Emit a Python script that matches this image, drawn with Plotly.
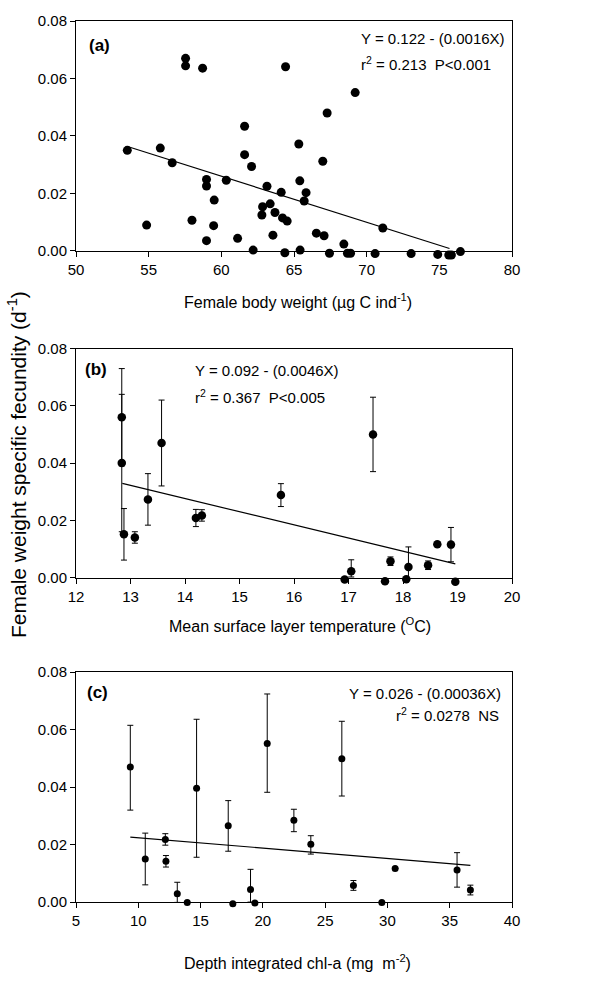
import plotly.graph_objects as go

# ---------------- Data ----------------
# Panel (a): female body weight vs fecundity
a_x = [53.53, 54.86, 55.80, 56.62, 57.54, 57.54, 57.98, 58.71, 58.98, 58.98,
       58.98, 59.47, 59.51, 60.34, 61.12, 61.60, 61.60, 62.08, 62.19, 62.79,
       62.84, 63.14, 63.36, 63.55, 63.69, 64.12, 64.21, 64.37, 64.42, 64.53,
       65.33, 65.40, 65.42, 65.70, 65.83, 66.54, 66.98, 67.07, 67.28, 67.44,
       68.43, 68.68, 68.89, 69.21, 70.58, 71.11, 73.06, 74.89, 75.65, 75.83,
       76.45]
a_y = [0.0350, 0.0090, 0.0358, 0.0307, 0.0670, 0.0644, 0.0107, 0.0636, 0.0249, 0.0226,
       0.0036, 0.0088, 0.0177, 0.0246, 0.0044, 0.0434, 0.0335, 0.0294, 0.0003, 0.0125,
       0.0154, 0.0225, 0.0164, 0.0055, 0.0134, 0.0204, 0.0115, -0.0006, 0.0641, 0.0104,
       0.0372, 0.0244, 0.0003, 0.0174, 0.0203, 0.0062, 0.0312, 0.0053, 0.0480, -0.0008,
       0.0024, -0.0008, -0.0008, 0.0551, -0.0009, 0.0080, -0.0009, -0.0012, -0.0014, -0.0014,
       -0.0002]
a_fit = {"b0": 0.122, "b1": -0.0016, "xmin": 53.6, "xmax": 75.7}

# Panel (b): mean surface layer temperature vs fecundity (mean +/- error)
b_x = [12.84, 12.84, 12.88, 13.08, 13.32, 13.57, 14.20, 14.31, 15.76, 16.93,
       17.05, 17.45, 17.67, 17.77, 18.06, 18.10, 18.46, 18.63, 18.88, 18.96]
b_y = [0.0560, 0.0400, 0.0151, 0.0140, 0.0273, 0.0470, 0.0208, 0.0217, 0.0288, -0.0007,
       0.0022, 0.0500, -0.0013, 0.0057, -0.0006, 0.0037, 0.0043, 0.0116, 0.0115, -0.0015]
b_err_up = [0.017, 0.024, 0.009, 0.002, 0.009, 0.015, 0.003, 0.002, 0.004, 0.0,
            0.004, 0.013, 0.0, 0.0015, 0.0, 0.007, 0.0015, 0.0, 0.006, 0.0]
b_err_dn = [0.017, 0.024, 0.009, 0.002, 0.009, 0.015, 0.003, 0.002, 0.004, 0.0,
            0.002, 0.013, 0.0, 0.0015, 0.0, 0.004, 0.0015, 0.0, 0.006, 0.0]
b_fit = {"b0": 0.092, "b1": -0.0046, "xmin": 12.85, "xmax": 18.96}

# Panel (c): depth integrated chl-a vs fecundity (mean +/- error)
c_x = [9.36, 10.56, 12.17, 12.22, 13.13, 13.93, 14.68, 17.22, 17.59, 19.01,
       19.36, 20.35, 22.49, 23.85, 26.34, 27.27, 29.55, 30.62, 35.59, 36.66]
c_y = [0.0470, 0.0150, 0.0218, 0.0142, 0.0029, -0.0001, 0.0396, 0.0266, -0.0006, 0.0044,
       -0.0003, 0.0552, 0.0285, 0.0201, 0.0499, 0.0058, -0.0001, 0.0117, 0.0112, 0.0042]
c_err_up = [0.0145, 0.009, 0.002, 0.002, 0.004, 0.0, 0.024, 0.0087, 0.0, 0.007,
            0.0, 0.0172, 0.0038, 0.003, 0.013, 0.0017, 0.0, 0.0, 0.006, 0.0017]
c_err_dn = [0.015, 0.009, 0.002, 0.002, 0.003, 0.0, 0.024, 0.0089, 0.0, 0.0044,
            0.0, 0.017, 0.004, 0.0034, 0.013, 0.0017, 0.0, 0.0, 0.006, 0.0017]
c_fit = {"b0": 0.026, "b1": -0.00036, "xmin": 9.36, "xmax": 36.66}

y_ticks = [0.00, 0.02, 0.04, 0.06, 0.08]
x_ticks_a = [50, 55, 60, 65, 70, 75, 80]
x_ticks_b = [12, 13, 14, 15, 16, 17, 18, 19, 20]
x_ticks_c = [5, 10, 15, 20, 25, 30, 35, 40]

# ---------------- Layout geometry ----------------
W, H = 610, 981
ML, MR, MT, MB = 76, 98, 17, 55
PW, PH = W - ML - MR, H - MT - MB
YMAX = 0.08
EXT = 12  # px of hidden extension below the zero line for marks slightly < 0


def px(xp):
    return (xp - ML) / PW


def py(yp):
    return 1 - (yp - MT) / PH


FONT = "Liberation Sans, Arial, Helvetica, sans-serif"

# pixel top / bottom of each panel
panel_px = [(17, 248), (346, 576), (671, 902)]

fig = go.Figure()

panels = [
    ("x", "y", "y4", a_x, a_y, None, None, a_fit, 9),
    ("x2", "y2", "y5", b_x, b_y, b_err_up, b_err_dn, b_fit, 8.5),
    ("x3", "y3", "y6", c_x, c_y, c_err_up, c_err_dn, c_fit, 7),
]

for xa, ya, yd, xs, ys, eu, ed, fit, msize in panels:
    fx = [fit["xmin"], fit["xmax"]]
    fy = [fit["b0"] + fit["b1"] * v for v in fx]
    fig.add_trace(go.Scatter(x=fx, y=fy, mode="lines", xaxis=xa, yaxis=ya,
                             line=dict(color="black", width=1.2),
                             showlegend=False, hoverinfo="skip"))
    err = None
    if eu is not None:
        err = dict(type="data", symmetric=False, array=eu, arrayminus=ed,
                   color="black", thickness=1, width=3)
    fig.add_trace(go.Scatter(x=xs, y=ys, mode="markers", xaxis=xa, yaxis=yd,
                             marker=dict(color="black", size=msize),
                             error_y=err, cliponaxis=False, showlegend=False))

axis_common = dict(showline=True, linecolor="black", linewidth=1, mirror=True,
                   ticks="outside", ticklen=5, tickcolor="black", showgrid=False,
                   zeroline=False, tickfont=dict(family=FONT, size=15, color="black"))

layout = dict(
    width=W, height=H,
    margin=dict(l=ML, r=MR, t=MT, b=MB),
    paper_bgcolor="white", plot_bgcolor="rgba(0,0,0,0)",
    font=dict(family=FONT, color="black"),
    xaxis=dict(range=[50, 80], tickvals=x_ticks_a, anchor="y", **axis_common),
    xaxis2=dict(range=[12, 20], tickvals=x_ticks_b, anchor="y2", **axis_common),
    xaxis3=dict(range=[5, 40], tickvals=x_ticks_c, anchor="y3", **axis_common),
)

for i, (top, bot) in enumerate(panel_px):
    n = i + 1
    key = "yaxis" if n == 1 else "yaxis%d" % n
    layout[key] = dict(range=[0, YMAX], tickvals=y_ticks, tickformat=".2f",
                       domain=[max(py(bot), 0), min(py(top), 1)],
                       anchor="x" if n == 1 else "x%d" % n, **axis_common)
    # hidden data axis: identical pixel scale, extended a little below zero
    ppu = (bot - top) / YMAX
    layout["yaxis%d" % (n + 3)] = dict(
        range=[-EXT / ppu, YMAX], domain=[max(py(bot + EXT), 0), min(py(top), 1)],
        visible=False, showgrid=False, zeroline=False,
        anchor="x" if n == 1 else "x%d" % n)

fig.update_layout(**layout)

ann = []


def add_text(text, x, y, size=15, xanchor="left", bold=False, angle=0):
    ann.append(dict(text=("<b>%s</b>" % text) if bold else text,
                    x=px(x), y=py(y), xref="paper", yref="paper",
                    xanchor=xanchor, yanchor="middle", showarrow=False,
                    textangle=angle,
                    font=dict(family=FONT, size=size, color="black")))


# panel labels
add_text("(a)", 87, 42, size=17, bold=True)
add_text("(b)", 83, 367, size=17, bold=True)
add_text("(c)", 85, 691, size=17, bold=True)

# equations
add_text("Y = 0.122 - (0.0016X)", 359, 35)
add_text("r<sup>2</sup> = 0.213  P<0.001", 359, 60)
add_text("Y = 0.092 - (0.0046X)", 193, 368)
add_text("r<sup>2</sup> = 0.367  P<0.005", 193, 394)
add_text("Y = 0.026 - (0.00036X)", 503, 692, xanchor="right")
add_text("r<sup>2</sup> = 0.0278  NS", 501, 714, xanchor="right")

# axis titles
add_text("Female body weight (µg C ind<sup>-1</sup>)", 298, 298, size=16, xanchor="center")
add_text("Mean surface layer temperature (<sup>O</sup>C)", 300, 624, size=16, xanchor="center")
add_text("Depth integrated chl-a (mg  m<sup>-2</sup>)", 297, 962, size=16, xanchor="center")
add_text("Female weight specific fecundity (d<sup>-1</sup>)", 17, 463, size=21,
         xanchor="center", angle=-90)

fig.update_layout(annotations=ann)

fig.write_html("out.html")
